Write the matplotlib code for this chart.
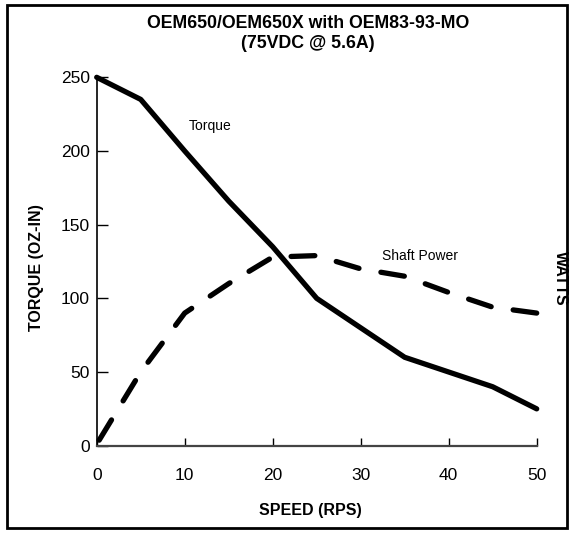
import matplotlib
matplotlib.use("Agg")
from matplotlib import pyplot as plt
from matplotlib.patches import Rectangle

plt.rcParams['font.family'] = ['Liberation Sans', 'DejaVu Sans']

speed = [0, 5, 10, 15, 20, 25, 30, 35, 40, 45, 50]
torque = [250, 235, 200, 166, 135, 100, 80, 60, 50, 40, 25]
power = [1, 50, 90, 110, 128, 129, 120, 115, 104, 94, 90]

W, H = 572, 533
fig = plt.figure(figsize=(W / 100, H / 100), dpi=100)

# axes box in pixels
left, right, top, bottom = 96.7, 536.7, 77.3, 445.7
ax = fig.add_axes([left / W, 1 - bottom / H, (right - left) / W, (bottom - top) / H])

ax.plot(speed, torque, color='black', lw=3.8, solid_capstyle='round',
        solid_joinstyle='round', clip_on=False)
# drawn from the 50 rps end so a dash finishes on the last point
ax.plot(speed[::-1], power[::-1], color='black', lw=3.8,
        linestyle=(0, (4.5, 4.22)), dash_capstyle='round', clip_on=False)

ax.set_xlim(0, 50)
ax.set_ylim(0, 250)
ax.set_xticks(range(0, 51, 10))
ax.set_yticks(range(0, 251, 50))
ax.spines['top'].set_visible(False)
ax.spines['right'].set_visible(False)
ax.spines['left'].set_linewidth(1.2)
ax.spines['bottom'].set_linewidth(1.6)
ax.spines['bottom'].set_color('#444444')
ax.tick_params(axis='x', direction='in', length=6, width=1.0, pad=16, labelsize=12.5)
ax.tick_params(axis='y', direction='in', length=8, width=1.0, pad=5, labelsize=12.5)

ax.text(12.9, 217, 'Torque', fontsize=10, ha='center', va='center')
ax.text(36.7, 129, 'Shaft Power', fontsize=10, ha='center', va='center')

fig.text(308 / W, 1 - 23 / H, 'OEM650/OEM650X with OEM83-93-MO', fontsize=12.8,
         fontweight='bold', ha='center', va='center')
fig.text(308 / W, 1 - 44 / H, '(75VDC @ 5.6A)', fontsize=12.8,
         fontweight='bold', ha='center', va='center')
fig.text(36 / W, 1 - 268 / H, 'TORQUE (OZ-IN)', fontsize=11.5, fontweight='bold',
         rotation=90, ha='center', va='center')
fig.text(310 / W, 1 - 510 / H, 'SPEED (RPS)', fontsize=11.5, fontweight='bold',
         ha='center', va='center')
fig.text(560 / W, 1 - 278 / H, 'WATTS', fontsize=11.5, fontweight='bold',
         rotation=-90, ha='center', va='center')

fig.patches.append(Rectangle((7 / W, 5 / H), 560 / W, 523 / H, fill=False,
                             lw=2, edgecolor='black', transform=fig.transFigure))

fig.savefig('out.png', dpi=100)
